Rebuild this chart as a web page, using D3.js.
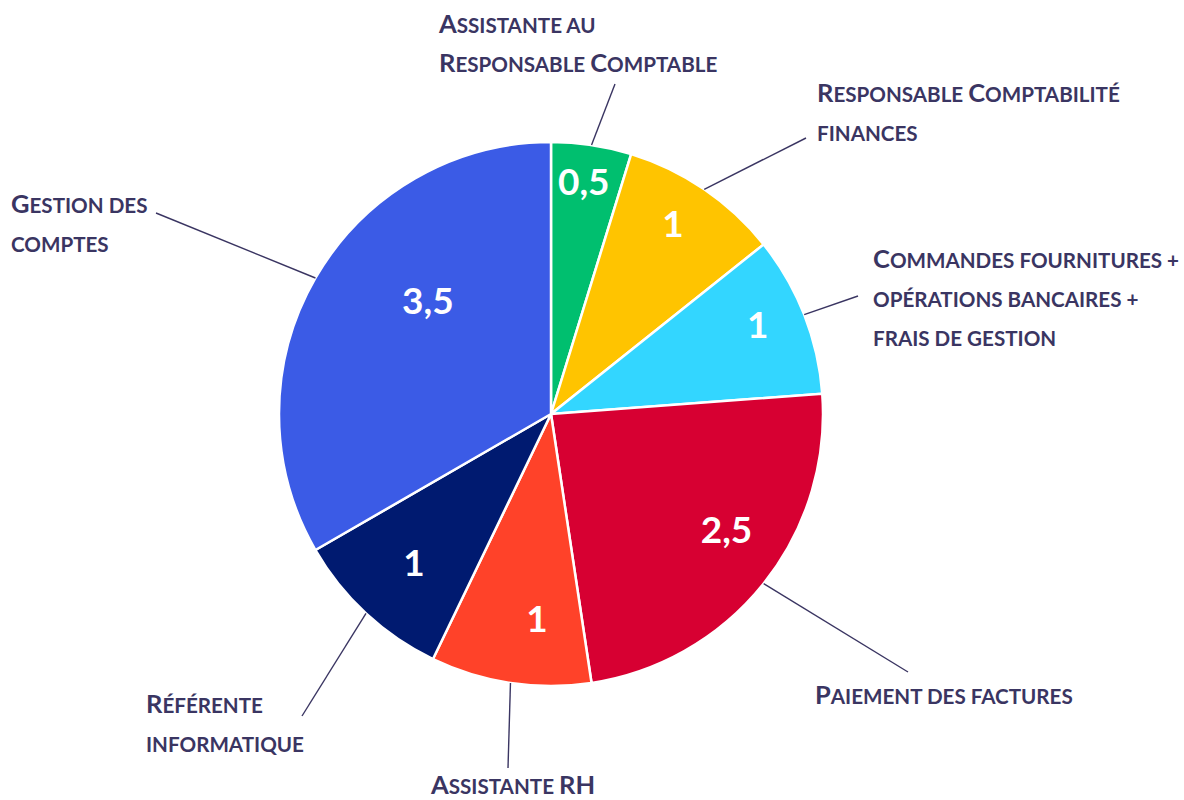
<!DOCTYPE html>
<html>
<head>
<meta charset="utf-8">
<script src="https://cdn.jsdelivr.net/npm/d3@7"></script>
<style>
  html, body { margin: 0; padding: 0; background: #ffffff; }
  svg { display: block; }
</style>
</head>
<body>
<svg id="chart" width="1184" height="800"></svg>
<script>
// ---- data ----
const categories = [
  "Assistante au|Responsable Comptable",
  "Responsable Comptabilité|finances",
  "Commandes fournitures +|opérations bancaires +|frais de gestion",
  "Paiement des factures",
  "Assistante RH",
  "Référente|informatique",
  "Gestion des|comptes"
];
const values = [0.5, 1, 1, 2.5, 1, 1, 3.5];
const valueLabels = ["0,5", "1", "1", "2,5", "1", "1", "3,5"];
const colors = ["#00bf6f", "#ffc400", "#33d6ff", "#d70032", "#ff4229", "#001a70", "#3b5be6"];

// ---- layout (relative to pie centre) ----
const leaderEnds = [[64,-330],[255,-276],[307,-118],[357,258],[-43,354],[-249,302],[-395,-201]];
const labelAnchors = [[-112,-381],[266,-312],[322,-146],[264,290],[-120,380],[-405,299],[-540,-201]];
// radius fraction, angle shift (deg) for the value labels
const valueLabelPos = [[0.868,-0.6],[0.835,-1.8],[0.83,-2.2],[0.77,-5.5],[0.75,-4.6],[0.74,0],[0.617,12.8]];

const cx = 551, cy = 414, R = 272;
const textColor = "#3a3562";
const lineH = 39;

const svg = d3.select("#chart");
const g = svg.append("g").attr("transform", `translate(${cx},${cy})`);

const pie = d3.pie().sort(null).value(d => d)(values);
const arc = d3.arc().innerRadius(0).outerRadius(R);

g.selectAll("path.slice").data(pie).join("path")
  .attr("class", "slice")
  .attr("d", arc)
  .attr("fill", (d, i) => colors[i])
  .attr("stroke", "#ffffff")
  .attr("stroke-width", 2.5)
  .attr("stroke-linejoin", "round");

// value labels
g.selectAll("text.val").data(pie).join("text")
  .attr("class", "val")
  .attr("transform", (d, i) => {
    const a = (d.startAngle + d.endAngle) / 2 + valueLabelPos[i][1] * Math.PI / 180;
    const r = R * valueLabelPos[i][0];
    return `translate(${r * Math.sin(a)},${-r * Math.cos(a)})`;
  })
  .attr("text-anchor", "middle")
  .attr("dominant-baseline", "central")
  .attr("fill", "#ffffff")
  .attr("font-family", "Lato, 'Open Sans', sans-serif")
  .attr("font-weight", 700)
  .attr("font-size", 37)
  .text((d, i) => valueLabels[i]);

// leader lines
g.selectAll("line.leader").data(pie).join("line")
  .attr("class", "leader")
  .attr("x1", d => R * Math.sin((d.startAngle + d.endAngle) / 2))
  .attr("y1", d => -R * Math.cos((d.startAngle + d.endAngle) / 2))
  .attr("x2", (d, i) => leaderEnds[i][0])
  .attr("y2", (d, i) => leaderEnds[i][1])
  .attr("stroke", textColor)
  .attr("stroke-width", 1.4);

// category labels with manual small caps
const bigSize = 25.5, smallSize = 20.6;
function addSmallCaps(textSel, str) {
  const runs = [];
  for (const ch of str) {
    const isUpper = ch !== ch.toLowerCase() && ch === ch.toUpperCase();
    const kind = isUpper ? "U" : "L";
    if (runs.length && runs[runs.length - 1].kind === kind) runs[runs.length - 1].s += ch;
    else runs.push({ kind, s: ch });
  }
  runs.forEach(r => {
    textSel.append("tspan")
      .attr("font-size", r.kind === "U" ? bigSize : smallSize)
      .text(r.kind === "U" ? r.s : r.s.toUpperCase());
  });
}

categories.forEach((cat, i) => {
  const lines = cat.split("|");
  lines.forEach((ln, j) => {
    const t = g.append("text")
      .attr("x", labelAnchors[i][0])
      .attr("y", labelAnchors[i][1] + j * lineH)
      .attr("fill", textColor)
      .attr("font-family", "Lato, 'Open Sans', sans-serif")
      .attr("font-weight", 700);
    addSmallCaps(t, ln);
  });
});
</script>
</body>
</html>
